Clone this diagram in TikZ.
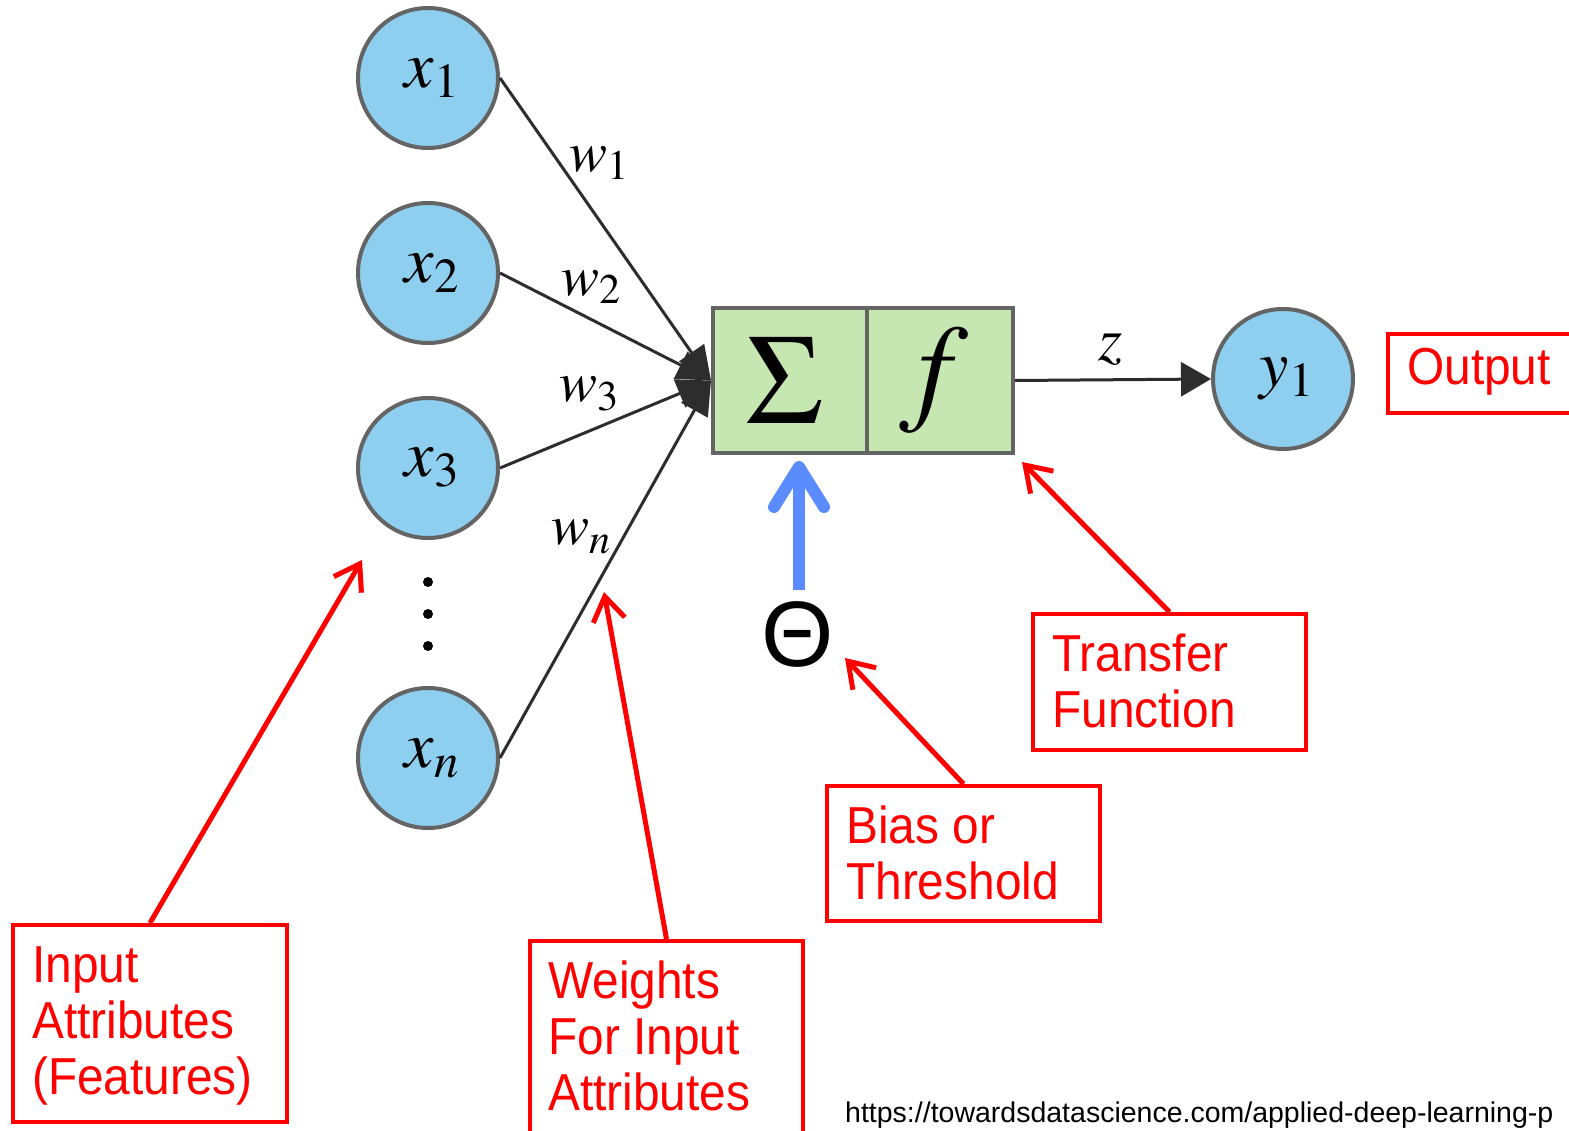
\documentclass[tikz,border=0pt]{standalone}
\usepackage{mathptmx}
\usepackage[no-math]{fontspec}
\setmainfont[FakeStretch=0.92]{Liberation Sans}
\newfontfamily\urlfont{Liberation Sans}
\newfontfamily\thetafont{Liberation Sans}
\usetikzlibrary{arrows.meta,calc}
\definecolor{cblue}{RGB}{142,207,240}
\definecolor{cgray}{RGB}{100,100,100}
\definecolor{cgreen}{RGB}{198,230,178}
\definecolor{cdark}{RGB}{45,45,45}
\definecolor{cbias}{RGB}{90,140,255}
\definecolor{cred}{RGB}{255,0,0}
\newcommand{\redlines}[1]{\begin{tabular}[t]{@{}l@{}}#1\end{tabular}}
\tikzset{
  inp/.style={circle, draw=cgray, line width=4pt, fill=cblue, minimum size=140pt, inner sep=0pt,
    font=\fontsize{66}{66}\selectfont},
  partbox/.style={rectangle, draw=cgray, line width=4pt, fill=cgreen, inner sep=0pt, anchor=north west},
  wlab/.style={inner sep=0pt, font=\fontsize{57}{57}\selectfont},
  conn/.style={draw=cdark, line width=3pt, -{Triangle[length=34pt,width=30pt]}},
  dotn/.style={circle, fill=black, minimum size=10pt, inner sep=0pt},
  redbox/.style={rectangle, draw=cred, line width=4pt, inner sep=0pt, anchor=north west},
  redtext/.style={inner sep=0pt, anchor=base west, text=cred, font=\fontsize{52}{56}\selectfont},
  redarrow/.style={draw=cred, line width=5pt, -{Straight Barb[length=24pt,width=32pt]}},
  bluearrow/.style={draw=cbias, line width=12pt, -{Straight Barb[length=40pt,width=50pt,round]}}
}
\begin{document}
\begin{tikzpicture}[x=1pt,y=-1pt]
\useasboundingbox (0,0) rectangle (1569,1131);
\clip (0,0) rectangle (1569,1131);
\fill[white] (0,0) rectangle (1569,1131);

% input neurons
\node[inp] (x1) at (428,78) {\hspace*{8pt}$x_1$};
\node[inp] (x2) at (428,273) {\hspace*{8pt}$x_2$};
\node[inp] (x3) at (428,468) {\hspace*{8pt}$x_3$};
\node[inp] (xn) at (428,758) {\hspace*{8pt}$x_n$};
\node[dotn] (d1) at (428,582) {};
\node[dotn] (d2) at (428,614) {};
\node[dotn] (d3) at (428,646) {};

% summation and transfer
\node[partbox, minimum width=154pt, minimum height=145pt, font=\fontsize{128}{128}\selectfont] (sigma) at (711,306) {\hspace*{-12pt}$\Sigma$};
\node[partbox, minimum width=146pt, minimum height=145pt, font=\fontsize{120}{120}\selectfont] (fbox) at (865,306) {\hspace*{-12pt}$f$};

% output neuron
\node[inp] (y1) at (1283,379) {\hspace*{8pt}$y_1$};

% connectors
\draw[conn] (x1.east) -- (sigma.west);
\draw[conn] (x2.east) -- (sigma.west);
\draw[conn] (x3.east) -- (sigma.west);
\draw[conn] (xn.east) -- (sigma.west);
\draw[conn, -{Triangle[length=30pt,width=34pt]}] (fbox.east) -- (y1.west);

% weight labels
\node[wlab] (w1) at (599,163) {$w_1$};
\node[wlab] (w2) at (591,287) {$w_2$};
\node[wlab] (w3) at (589,394) {$w_3$};
\node[wlab] (wn) at (581,537) {$w_n$};
\node[wlab, font=\fontsize{62}{62}\selectfont] (z) at (1111,350) {$z$};

% bias
\node[inner sep=0pt, font=\thetafont\fontsize{93}{93}\selectfont] (theta) at (798,634) {Θ};
\coordinate (biasT) at (799,461);
\draw[bluearrow] ($(theta.north)+(1,-11)$) -- (biasT);

% red annotation boxes
\node[redbox, minimum width=250pt, minimum height=79pt] (outbox) at (1386,332) {};
\node[redtext] (outtext) at (1407,385) {Output};

\node[redbox, minimum width=273pt, minimum height=136pt] (tfbox) at (1031,612) {};
\node[redtext] (tftext) at (1052,671) {\redlines{Transfer\\Function}};

\node[redbox, minimum width=273pt, minimum height=135pt] (biasbox) at (825,784) {};
\node[redtext] (biastext) at (846,843) {\redlines{Bias or\\Threshold}};

\node[redbox, minimum width=274pt, minimum height=197pt] (inbox) at (11,923) {};
\node[redtext] (intext) at (32,982) {\redlines{Input\\Attributes\\(Features)}};

\node[redbox, minimum width=273pt, minimum height=230pt] (wbox) at (528,939) {};
\node[redtext] (wtext) at (548,998) {\redlines{Weights\\For Input\\Attributes}};

% red arrows
\coordinate (tfT) at (1022,462);
\coordinate (biasRT) at (845,658);
\coordinate (inT) at (362,560);
\coordinate (wT) at (604,592);
\draw[redarrow] (tfbox.north) -- (tfT);
\draw[redarrow] (biasbox.north) -- (biasRT);
\draw[redarrow] (inbox.north) -- (inT);
\draw[redarrow] (wbox.north) -- (wT);

% source
\node[inner sep=0pt, anchor=base west, font=\urlfont\fontsize{28.5}{29}\selectfont] (src) at (845,1122) {https://towardsdatascience.com/applied-deep-learning-p};
\end{tikzpicture}
\end{document}
